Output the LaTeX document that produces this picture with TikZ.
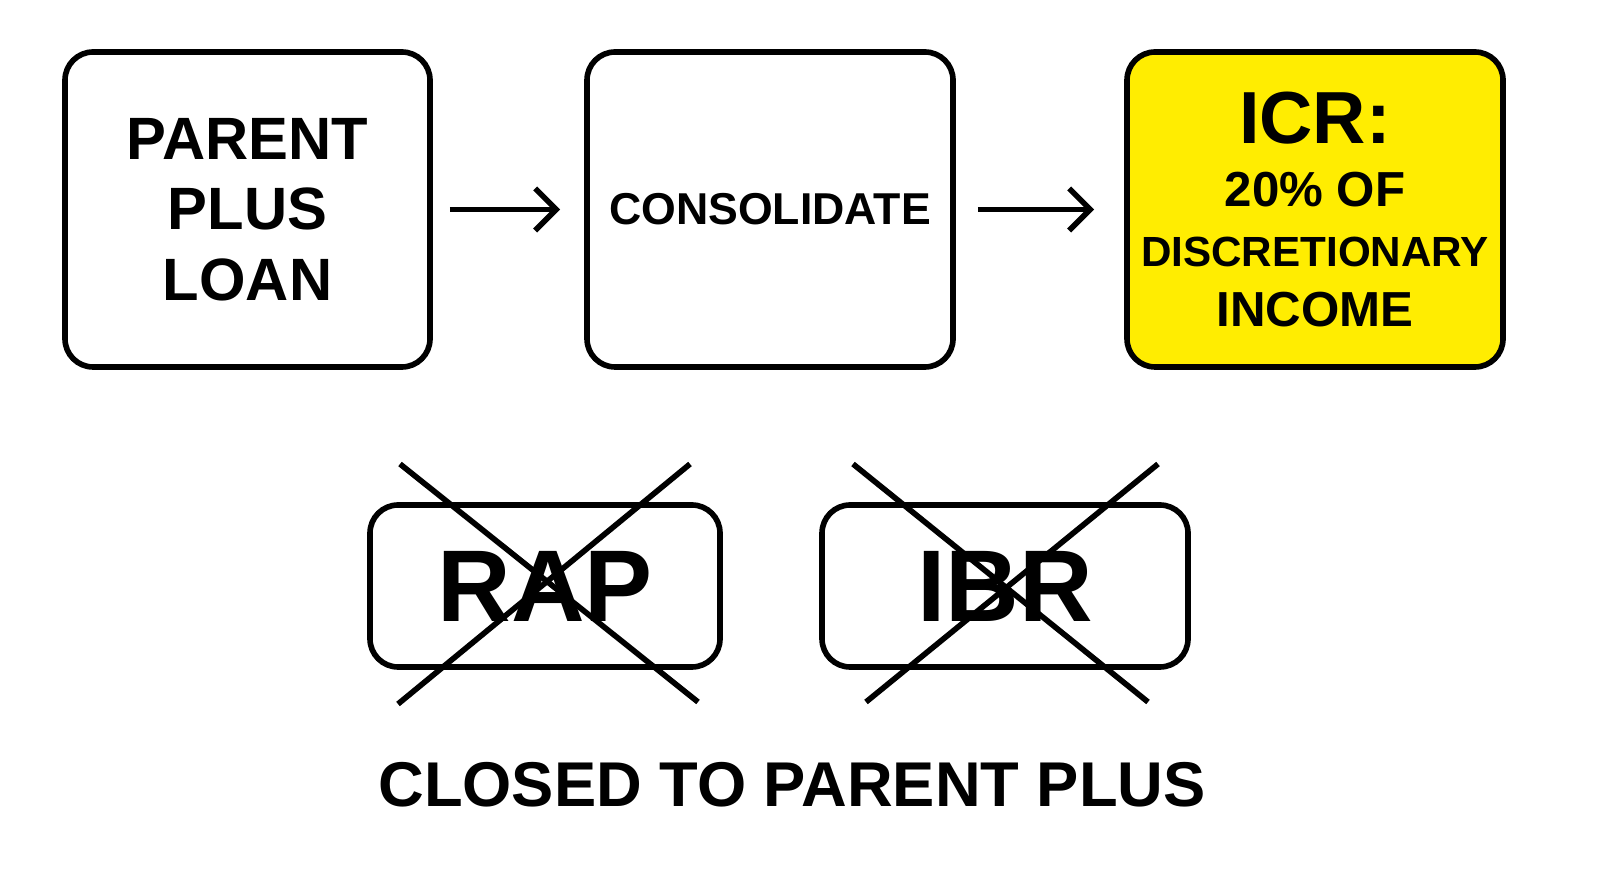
\documentclass[tikz,border=0pt]{standalone}
\usepackage{fontspec}
\setmainfont{Liberation Sans}
\usetikzlibrary{positioning, calc, arrows.meta}

\begin{document}
\begin{tikzpicture}[x=1cm, y=1cm, >={Straight Barb[length=6pt, width=12pt]},
    box/.style={rectangle, draw, line width=1.6pt, rounded corners=8pt, align=center, minimum height=3.15cm, inner sep=2pt, font=\bfseries},
    crossbox/.style={rectangle, draw, line width=1.6pt, rounded corners=8pt, minimum height=1.62cm, inner sep=0pt, font=\bfseries\fontsize{29}{30}\selectfont},
    cross/.style={line width=1.6pt},
    flow/.style={->, line width=1.6pt}]
        \useasboundingbox (0,0) rectangle (16,8.75);

        % Nodes
        \node[box, minimum width=3.65cm, font=\bfseries\fontsize{17}{20}\selectfont] (loan) at (2.475,6.655) {PARENT\\PLUS\\LOAN};
        \node[box, minimum width=3.66cm, font=\bfseries\fontsize{12.7}{15}\selectfont] (cons) at (7.70,6.655) {CONSOLIDATE};
        \node[box, minimum width=3.76cm, fill=yellow!95!orange, font=\bfseries\fontsize{12}{17}\selectfont] (icr) at (13.15,6.655) {{\fontsize{21}{24}\selectfont ICR:}\\[1pt]{\fontsize{14}{17}\selectfont 20\% OF}\\DISCRETIONARY\\{\fontsize{14}{17}\selectfont INCOME}};

        \node[crossbox, minimum width=3.5cm] (rap) at (5.45,2.89) {RAP};
        \node[crossbox, minimum width=3.66cm] (ibr) at (10.05,2.89) {IBR};
        \node[font=\bfseries\fontsize{18}{21}\selectfont] (closed) at (7.92,0.9) {CLOSED TO PARENT PLUS};

        % Arrows
        \draw[flow] ([xshift=0.17cm] loan.east) -- ([xshift=-0.24cm] cons.west);
        \draw[flow] ([xshift=0.22cm] cons.east) -- ([xshift=-0.30cm] icr.west);

        % Crosses
        \draw[cross] ($(rap.center)+(-1.45,1.22)$) -- ($(rap.center)+(1.53,-1.16)$);
        \draw[cross] ($(rap.center)+(1.45,1.22)$) -- ($(rap.center)+(-1.47,-1.18)$);
        \draw[cross] ($(ibr.center)+(-1.52,1.22)$) -- ($(ibr.center)+(1.43,-1.16)$);
        \draw[cross] ($(ibr.center)+(1.53,1.22)$) -- ($(ibr.center)+(-1.39,-1.16)$);

        \end{tikzpicture}
\end{document}
